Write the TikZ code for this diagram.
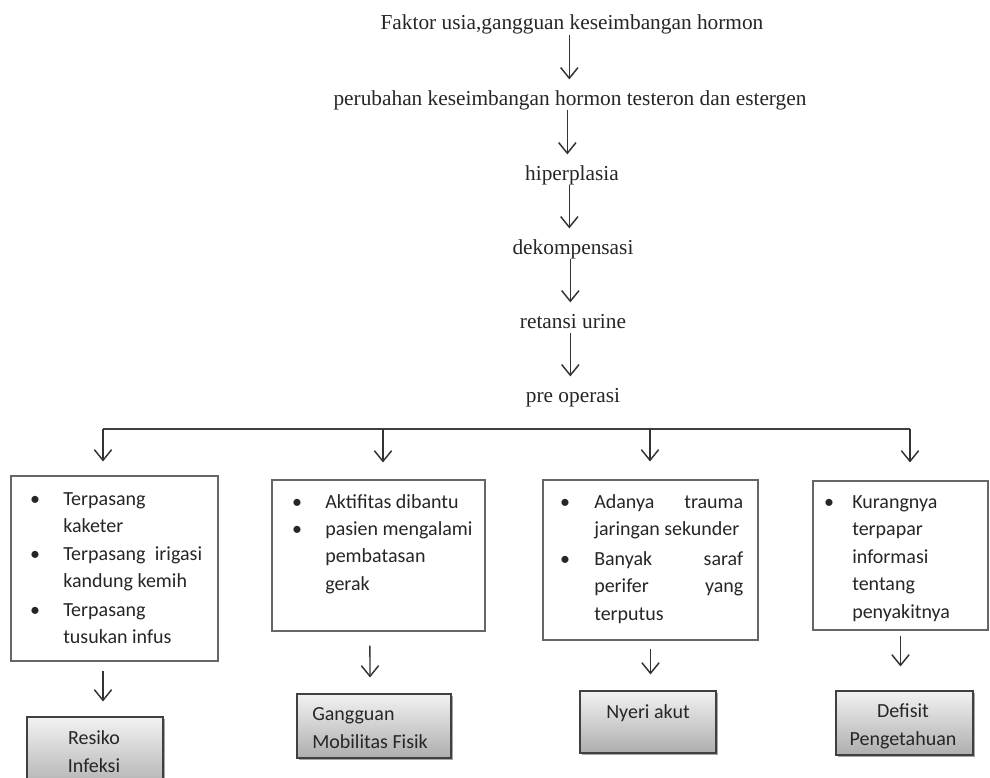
\documentclass[tikz,border=0pt]{standalone}
\usepackage{fontspec}
\setmainfont{Liberation Serif}
\newfontfamily\calfont{Carlito}
\usetikzlibrary{arrows.meta,shadows}
\begin{document}
\begin{tikzpicture}[x=0.75pt,y=-0.75pt,
  toptxt/.style={font=\fontsize{16}{19}\selectfont, inner sep=0pt, text height=11pt, text depth=3.5pt, text=black!85},
  arr/.style={-{Straight Barb[length=8pt,width=13pt]}, line width=1.1pt, draw=black!80},
  boxnode/.style={draw=black!60, line width=0.8pt, rectangle, inner sep=0pt},
  itemtxt/.style={font=\calfont\fontsize{15}{20.7}\selectfont, align=left, inner sep=0pt, anchor=base west, text=black!85},
  bul/.style={font=\calfont\fontsize{15}{20.7}\selectfont, inner sep=0pt, anchor=base, text=black!85},
  gbox/.style={draw=black!75, line width=0.8pt, rectangle, inner sep=0pt, top color=black!5, bottom color=black!32,
     drop shadow={shadow xshift=1.5pt, shadow yshift=-1.5pt, fill=black, opacity=0.35}},
  glab/.style={font=\calfont\fontsize{15}{20.5}\selectfont, inner sep=0pt, anchor=base, align=center, text=black!85}
]
\useasboundingbox (0,0) rectangle (990,778);
\fill[white] (0,0) rectangle (990,778);

% chain
\node[toptxt] (t1) at (572,25) {Faktor usia,gangguan keseimbangan hormon};
\node[toptxt] (t2) at (570,100) {perubahan keseimbangan hormon testeron dan estergen};
\node[toptxt] (t3) at (572,175) {hiperplasia};
\node[toptxt] (t4) at (573,249) {dekompensasi};
\node[toptxt] (t5) at (573,323) {retansi urine};
\node[toptxt] (t6) at (573,397) {pre operasi};

\foreach \a/\b in {t1/t2,t2/t3,t3/t4,t4/t5,t5/t6}
  \draw[arr, shorten <=0pt, shorten >=8pt] ([xshift=-2pt]\a.south) -- ([xshift=-2pt]\a.south |- \b.north);

% bar
\coordinate (bl) at (103,429);
\coordinate (c2) at (383,429);
\coordinate (c3) at (650,429);
\coordinate (br) at (910,429);
\draw[line width=1pt, black!75] (bl) -- (br);

% boxes
\node[boxnode, minimum width=155.25pt, minimum height=138.75pt] (box1) at (114.5,568.5) {};
\node[boxnode, minimum width=159.75pt, minimum height=113.25pt] (box2) at (378.5,555.5) {};
\node[boxnode, minimum width=161.25pt, minimum height=120pt] (box3) at (650.5,560) {};
\node[boxnode, minimum width=131.25pt, minimum height=111.75pt] (box4) at (900.5,555.5) {};

\draw[arr, shorten >=10.5pt] (bl) -- (bl |- box1.north);
\draw[arr, shorten >=12.75pt] (c2) -- (c2 |- box2.north);
\draw[arr, shorten >=13.5pt] (c3) -- (c3 |- box3.north);
\draw[arr, shorten >=13.5pt] (br) -- (br |- box4.north);

% box 1 text (node base = last line baseline)
\node[bul] (b11) at (35,505) {•};
\node[itemtxt] (i11) at (63,532.6) {Terpasang\\kaketer};
\node[bul] (b12) at (35,560) {•};
\node[itemtxt] (i12) at (63,587.6) {Terpasang\hspace{7pt}irigasi\\kandung kemih};
\node[bul] (b13) at (35,616) {•};
\node[itemtxt] (i13) at (63,643.6) {Terpasang\\tusukan infus};

% box 2 text
\node[bul] (b21) at (297,508) {•};
\node[itemtxt] (i21) at (325,508) {Aktifitas dibantu};
\node[bul] (b22) at (297,535) {•};
\node[itemtxt] (i22) at (325,590.2) {pasien mengalami\\pembatasan\\gerak};

% box 3 text
\node[bul] (b31) at (565,508) {•};
\node[itemtxt] (i31) at (594,535.6) {\makebox[111.75pt][s]{Adanya trauma}\\jaringan sekunder};
\node[bul] (b32) at (565,565) {•};
\node[itemtxt] (i32) at (594,620.2) {\makebox[111.75pt][s]{Banyak saraf}\\\makebox[111.75pt][s]{perifer yang}\\terputus};

% box 4 text
\node[bul] (b41) at (829,508) {•};
\node[itemtxt] (i41) at (852,618.4) {Kurangnya\\terpapar\\informasi\\tentang\\penyakitnya};

% gray boxes
\node[gbox, minimum width=102pt, minimum height=56.25pt] (g1) at (95,754.5) {};
\node[gbox, minimum width=115.5pt, minimum height=48pt] (g2) at (374,726) {};
\node[gbox, minimum width=102pt, minimum height=46.5pt] (g3) at (648,722) {};
\node[gbox, minimum width=102.75pt, minimum height=48pt] (g4) at (904.5,723) {};

\node[glab] (l1) at (94,772) {Resiko\\Infeksi};
\node[glab, anchor=base west, align=left] (l2) at (312,748) {Gangguan\\Mobilitas Fisik};
\node[glab] (l3) at (648,718) {Nyeri akut};
\node[glab] (l4) at (903,745) {Defisit\\Pengetahuan};

% box -> gray arrows
\draw[arr, shorten <=6.75pt, shorten >=11.25pt] (box1.south -| bl) -- (g1.north -| bl);
\draw[arr, shorten <=10.5pt, shorten >=12pt] ([xshift=-6.4pt]box2.south) -- ([xshift=-3pt]g2.north);
\draw[arr, shorten <=6pt, shorten >=12pt] (box3.south) -- (box3.south |- g3.north);
\draw[arr, shorten <=3.75pt, shorten >=18pt] (box4.south) -- (box4.south |- g4.north);
\end{tikzpicture}
\end{document}
